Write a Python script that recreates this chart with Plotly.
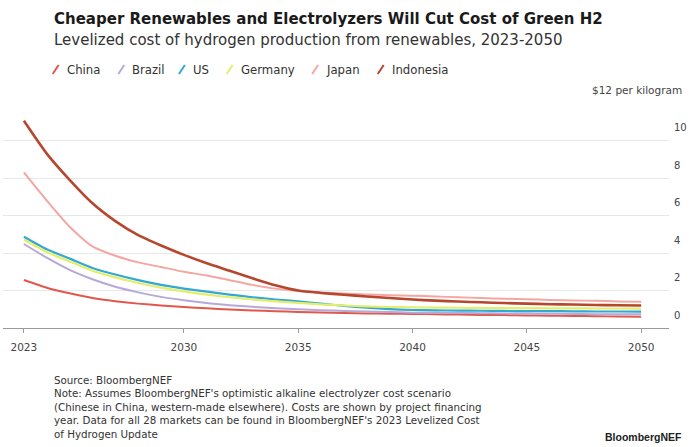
import plotly.graph_objects as go

years = list(range(2023, 2051))

china = [2.56, 2.15, 1.85, 1.60, 1.43, 1.30, 1.20, 1.12, 1.05, 0.99, 0.94, 0.90, 0.86, 0.83,
         0.80, 0.78, 0.76, 0.75, 0.73, 0.72, 0.70, 0.69, 0.67, 0.66, 0.64, 0.63, 0.61, 0.60]
brazil = [4.48, 3.75, 3.10, 2.60, 2.20, 1.90, 1.66, 1.48, 1.33, 1.22, 1.13, 1.06, 1.00, 0.95,
          0.91, 0.88, 0.85, 0.82, 0.81, 0.80, 0.79, 0.78, 0.77, 0.76, 0.75, 0.74, 0.74, 0.73]
us = [4.87, 4.20, 3.70, 3.20, 2.85, 2.55, 2.30, 2.10, 1.94, 1.78, 1.64, 1.52, 1.42, 1.30,
      1.18, 1.08, 1.01, 0.96, 0.94, 0.93, 0.92, 0.91, 0.90, 0.90, 0.89, 0.88, 0.88, 0.87]
germany = [4.72, 4.05, 3.55, 3.05, 2.70, 2.40, 2.15, 1.95, 1.78, 1.64, 1.52, 1.42, 1.34, 1.26,
           1.20, 1.15, 1.12, 1.10, 1.09, 1.08, 1.07, 1.06, 1.06, 1.05, 1.05, 1.04, 1.04, 1.03]
japan = [8.30, 6.80, 5.40, 4.35, 3.85, 3.50, 3.25, 3.00, 2.80, 2.55, 2.30, 2.10, 1.98, 1.90,
         1.84, 1.79, 1.75, 1.72, 1.68, 1.64, 1.60, 1.56, 1.53, 1.50, 1.47, 1.45, 1.42, 1.40]
indonesia = [11.05, 9.30, 7.90, 6.65, 5.70, 4.95, 4.40, 3.90, 3.45, 3.05, 2.65, 2.28, 2.00, 1.87,
             1.77, 1.68, 1.60, 1.52, 1.46, 1.41, 1.37, 1.33, 1.30, 1.27, 1.25, 1.23, 1.21, 1.20]

names = ["China", "Brazil", "US", "Germany", "Japan", "Indonesia"]
series = [china, brazil, us, germany, japan, indonesia]
colors = ["#e2574c", "#b6a9d8", "#33a8d3", "#e4ee6c", "#f3a6a2", "#b5472f"]
widths = [2, 2, 2.2, 2.2, 2, 2.6]

x_ticks = [2023, 2030, 2035, 2040, 2045, 2050]
y_ticks = [0, 2, 4, 6, 8, 10, 12]
y_ticktext = ["0", "2", "4", "6", "8", "10", ""]

# layout geometry (pixels)
W, H = 690, 447
L, R, T, B = 3, 17, 103, 119
pw, ph = W - L - R, H - T - B


def px(xp):
    return (xp - L) / pw


def py(yp):
    return (H - B - yp) / ph


fig = go.Figure()
for name, vals, col, w in zip(names, series, colors, widths):
    fig.add_trace(go.Scatter(x=years, y=vals, mode="lines", name=name,
                             line=dict(color=col, width=w, shape="spline", smoothing=0.6),
                             showlegend=False, hoverinfo="skip"))

font = "DejaVu Sans, sans-serif"
ann = []
shapes = []
ann.append(dict(text="<b>Cheaper Renewables and Electrolyzers Will Cut Cost of Green H2</b>",
                x=px(52), y=py(19), xref="paper", yref="paper", xanchor="left", yanchor="middle",
                showarrow=False, font=dict(family=font, size=15, color="#1a1a1a")))
ann.append(dict(text="Levelized cost of hydrogen production from renewables, 2023-2050",
                x=px(52), y=py(40), xref="paper", yref="paper", xanchor="left", yanchor="middle",
                showarrow=False, font=dict(family=font, size=15, color="#333333")))

# legend
leg_text_x = [65, 131, 192, 240, 326, 392]
for name, col, tx in zip(names, colors, leg_text_x):
    ic = tx - 9
    shapes.append(dict(type="line", xref="paper", yref="paper",
                       x0=px(ic - 3), x1=px(ic + 3), y0=py(74), y1=py(65),
                       line=dict(color=col, width=2)))
    ann.append(dict(text=name, x=px(tx), y=py(70), xref="paper", yref="paper",
                    xanchor="left", yanchor="middle", showarrow=False,
                    font=dict(family=font, size=11.7, color="#333333")))

ann.append(dict(text="$12 per kilogram", x=px(688), y=py(90), xref="paper", yref="paper",
                xanchor="right", yanchor="middle", showarrow=False,
                font=dict(family=font, size=10.5, color="#444444")))

note = ("Source: BloombergNEF<br>"
        "Note: Assumes BloombergNEF's optimistic alkaline electrolyzer cost scenario<br>"
        "(Chinese in China, western-made elsewhere). Costs are shown by project financing<br>"
        "year. Data for all 28 markets can be found in BloombergNEF's 2023 Levelized Cost<br>"
        "of Hydrogen Update")
ann.append(dict(text=note, x=px(52), y=py(372), xref="paper", yref="paper",
                xanchor="left", yanchor="top", align="left", showarrow=False,
                font=dict(family=font, size=10.3, color="#333333")))
ann.append(dict(text="<b>BloombergNEF</b>", x=px(688), y=py(437), xref="paper", yref="paper",
                xanchor="right", yanchor="middle", showarrow=False,
                font=dict(family="Liberation Sans, Arial, sans-serif", size=10.5, color="#222222")))

fig.update_layout(
    width=W, height=H,
    margin=dict(l=L, r=R, t=T, b=B, pad=0),
    paper_bgcolor="white", plot_bgcolor="white",
    showlegend=False,
    annotations=ann, shapes=shapes,
    font=dict(family=font, color="#444444"),
    xaxis=dict(range=[2022.087, 2051.217], tickvals=x_ticks, ticktext=[str(v) for v in x_ticks],
               showgrid=False, zeroline=False, showline=True, linecolor="#9a9a9a", linewidth=1,
               ticks="outside", ticklen=4, tickcolor="#9a9a9a", ticklabelstandoff=5,
               tickfont=dict(family=font, size=10.5, color="#444444"), fixedrange=True),
    yaxis=dict(range=[0, 12], side="right", tickvals=y_ticks, ticktext=y_ticktext,
               showgrid=True, gridcolor="#e8e8e8", gridwidth=1, zeroline=False, showline=False,
               ticks="", ticklabelshift=-13, ticklabelstandoff=4,
               tickfont=dict(family=font, size=10, color="#444444"), fixedrange=True),
)

fig.write_html("out.html")
